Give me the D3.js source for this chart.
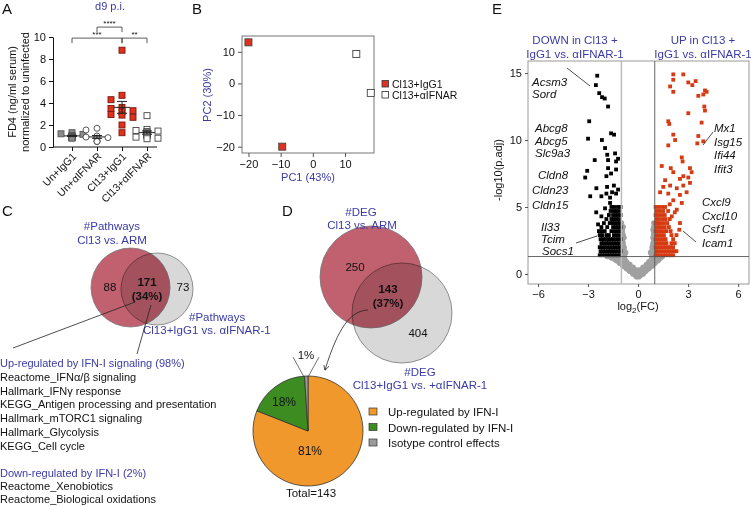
<!DOCTYPE html>
<html><head><meta charset="utf-8">
<script src="https://cdn.jsdelivr.net/npm/d3@7"></script>
<style>
body{margin:0;background:#fff}
text{font-family:"Liberation Sans",Arial,sans-serif}
</style></head><body>
<svg id="c" width="751" height="506"></svg>
<script>
// ---------------- DATA ----------------
// Panel A
const aCats = ["Un+IgG1","Un+αIFNAR","Cl13+IgG1","Cl13+αIFNAR"];
const aUnIgG1 = [1.3,1.2,1.15,1.05,1.0,0.95,0.9,0.9,0.85,0.8];
const aUnAIFNAR = [1.7,1.55,1.0,0.9,0.85,0.8,0.8,0.55,0.5,0.5];
const aCl13IgG1 = [8.8,4.7,4.3,3.6,3.5,3.3,3.2,2.95,2.9,2.7,2.0,1.3];
const aCl13AIFNAR = [2.85,1.6,1.5,1.45,1.4,1.3,1.2,1.15,1.1,1.0,0.9,0.8,0.75];
const aTicks = [0,2,4,6,8,10];
const aSig = [["Un+αIFNAR","Cl13+IgG1","****",10.9],["Un+IgG1","Cl13+IgG1","***",9.9],["Cl13+IgG1","Cl13+αIFNAR","**",9.9]];
// Panel B
const bGroups = ["Cl13+IgG1","Cl13+αIFNAR"];
const bPC1 = [-20,-9.5,13.5,18];
const bPC2 = [13,-20,9.3,-3];
const bGroupOf = [0,0,1,1];
const bTicks = [-20,-10,0,10];
// Panel C
const cCounts = [88,171,73];
const cPct = "34%";
const cUpTitle = "Up-regulated by IFN-I signaling (98%)";
const cUpList = ["Reactome_IFNα/β signaling","Hallmark_IFNγ response","KEGG_Antigen processing and presentation","Hallmark_mTORC1 signaling","Hallmark_Glycolysis","KEGG_Cell cycle"];
const cDownTitle = "Down-regulated by IFN-I (2%)";
const cDownList = ["Reactome_Xenobiotics","Reactome_Biological oxidations"];
// Panel D
const dCounts = [250,143,404];
const dPct = "37%";
const pieLabels = ["Up-regulated by IFN-I","Down-regulated by IFN-I","Isotype control effects"];
const pieValues = [81,18,1];
const pieColors = ["#f0982c","#3c8c22","#9a9a9a"];
// Panel E
const eXTicks = [-6,-3,0,3,6];
const eYTicks = [0,5,10,15];
const eDown = [[-2.45,14.8],[-2.53,14.1],[-2.33,13.5],[-2.16,13.2],[-2.0,13.1],[-1.8,12.5],
 [-2.93,11.4],[-3.0,10.1],[-2.17,10.0],[-1.62,10.5],[-1.44,10.4],
 [-1.98,9.4],[-1.85,8.9],[-1.38,9.0],[-2.6,8.5],[-1.8,8.5],[-1.32,8.4],[-1.2,8.6],
 [-3.05,7.7],[-3.17,7.2],[-1.8,7.9],[-1.62,7.5],[-1.32,7.8],[-1.9,7.3],
 [-2.5,6.4],[-1.86,6.5],[-2.87,5.8],[-2.2,5.8],[-1.9,6.0],[-1.68,5.7],[-1.56,6.1],[-1.32,6.0],[-1.45,6.6],[-1.2,6.3],
 [-2.51,4.6],[-1.98,4.9],[-1.68,5.3],[-2.4,3.7],[-2.2,4.3]];
const eDownDense = [
 [1.4,[-2.3,-2.15,-2.0,-1.85,-1.7,-1.55,-1.4,-1.25,-1.1]],
 [1.7,[-2.25,-2.1,-1.95,-1.8,-1.65,-1.5,-1.35,-1.2,-1.05]],
 [2.0,[-2.3,-2.15,-2.0,-1.85,-1.7,-1.55,-1.4,-1.25,-1.1]],
 [2.3,[-2.2,-2.05,-1.9,-1.75,-1.6,-1.45,-1.3,-1.15]],
 [2.6,[-2.25,-2.1,-1.95,-1.8,-1.65,-1.5,-1.35,-1.2,-1.05]],
 [2.9,[-2.3,-2.15,-1.9,-1.75,-1.45,-1.3,-1.15]],
 [3.2,[-2.35,-2.2,-2.0,-1.6,-1.4,-1.25,-1.1]],
 [3.5,[-2.2,-1.85,-1.5,-1.35,-1.2,-1.05]],
 [3.8,[-2.05,-1.7,-1.55,-1.4,-1.25,-1.1]],
 [4.1,[-1.9,-1.6,-1.45,-1.3,-1.15]],
 [4.4,[-1.75,-1.5,-1.35,-1.2,-1.05]],
 [4.7,[-1.65,-1.45,-1.3,-1.15]],
 [5.0,[-1.6,-1.4,-1.2,-1.05]]];
const eUp = [[2.11,14.9],[2.71,14.9],[2.11,14.5],[1.92,14.0],[2.11,13.6],[3.01,14.3],[3.25,14.1],[3.45,14.4],[4.01,13.7],[4.11,13.6],[3.91,13.4],[3.61,13.3],[3.01,12.0],[3.97,12.5],[4.01,12.2],[1.81,11.4],[1.87,11.2],[3.81,11.3],[2.11,10.4],[3.61,10.3],[2.22,10.0],[3.55,9.75],[1.81,9.6],[3.91,9.9],[1.42,8.06],[2.62,8.7],[2.67,8.4],[1.96,7.9],[2.11,7.6],[3.11,7.9],[3.21,7.6],[3.01,7.2],[2.71,7.3],[1.62,7.0],[2.51,7.1],[1.92,6.6],[2.32,6.4],[2.71,6.6],[3.11,6.8],[1.51,6.5],[1.32,6.1],[1.81,6.0],[2.51,5.9],[2.91,6.1],[2.11,5.5],[2.62,5.3],[1.62,5.0],[2.32,4.8],[2.02,4.3],[2.51,3.8],[2.47,3.3],[2.2,4.6],[1.9,5.2]];
const eUpDense = [
 [1.4,[1.05,1.2,1.35,1.5,1.65,1.8,1.95,2.1]],
 [1.7,[1.1,1.25,1.4,1.55,1.7,1.85,2.0,2.15,2.3]],
 [2.0,[1.05,1.2,1.35,1.5,1.65,1.8,1.95,2.1]],
 [2.3,[1.1,1.25,1.4,1.55,1.7,2.0,2.2]],
 [2.6,[1.05,1.2,1.35,1.5,1.65,2.1]],
 [2.9,[1.1,1.25,1.4,1.55,2.0,2.3]],
 [3.2,[1.05,1.2,1.35,1.5,1.7,1.95]],
 [3.5,[1.1,1.25,1.4,1.6,1.85]],
 [3.8,[1.05,1.2,1.35,1.55,1.75]],
 [4.1,[1.1,1.25,1.45,1.65,1.9]],
 [4.4,[1.05,1.2,1.4,1.6]],
 [4.7,[1.1,1.3,1.5,1.8]],
 [5.0,[1.05,1.25,1.45]]];
const eNS = [
 [-0.2,[-0.1,0.05]],
 [-0.1,[-0.15,0,0.15]],
 [0.0,[-0.3,-0.15,0,0.15,0.3]],
 [0.1,[-0.35,-0.2,-0.05,0.1,0.25,0.35]],
 [0.2,[-0.5,-0.35,-0.2,0.2,0.35,0.45]],
 [0.3,[-0.55,-0.4,-0.25,-0.1,0.05,0.2,0.35,0.5]],
 [0.4,[-0.7,-0.55,-0.4,0.4,0.55,0.65]],
 [0.5,[-0.75,-0.6,-0.45,-0.3,0.3,0.45,0.6,0.7]],
 [0.6,[-0.9,-0.75,-0.6,0.55,0.7,0.85]],
 [0.7,[-0.95,-0.8,-0.65,-0.5,0.5,0.65,0.8,0.9]],
 [0.8,[-1.1,-0.95,-0.8,-0.65,0.7,0.85,1.0]],
 [0.9,[-1.15,-1.0,-0.85,-0.7,0.65,0.8,0.95,1.05]],
 [1.0,[-1.3,-1.15,-1.0,-0.85,0.8,0.95,1.1,1.2]],
 [1.1,[-1.4,-1.25,-1.1,-0.95,-0.8,0.8,0.95,1.1,1.25]],
 [1.2,[-1.6,-1.45,-1.3,-1.15,-1.0,-0.9,0.9,1.05,1.2,1.35]],
 [1.3,[-1.85,-1.7,-1.55,-1.4,-1.2,-1.0,-0.85,0.85,1.0,1.2,1.35,1.45]],
 [1.5,[-0.95,-0.8,0.8,0.95]],
 [1.6,[-0.9,-0.75,0.75,0.9]],
 [1.8,[-0.95,-0.85,0.85,0.95]],
 [2.0,[-0.85,0.85]],[2.1,[-0.95,0.9]],[2.3,[-0.9,0.9]],[2.5,[-0.95,0.95]],[2.7,[-0.85,0.9]],
 [2.9,[-0.9,0.95]],[3.1,[-0.95,0.95]],[3.3,[-0.95,0.9]],[3.5,[-0.9,0.95]],[3.8,[-1.0,0.95]]];
const eDownGenes = [["Acsm3","Sord"],["Abcg8","Abcg5","Slc9a3"],["Cldn8","Cldn23","Cldn15"],["Il33","Tcim","Socs1"]];
const eUpGenes = [["Mx1","Isg15","Ifi44","Ifit3"],["Cxcl9","Cxcl10","Csf1","Icam1"]];

// ---------------- DRAW ----------------
const BLUE = "#3b3ba6";
const svg = d3.select("#c");
function txt(g,x,y,s,o={}){
  const t=g.append("text").attr("x",x).attr("y",y).text(s)
   .attr("font-size",o.size||11).attr("fill",o.fill||"#111")
   .attr("text-anchor",o.anchor||"start");
  if(o.weight) t.attr("font-weight",o.weight);
  if(o.italic) t.attr("font-style","italic");
  return t;
}
function panelLetter(x,y,s){txt(svg,x,y,s,{size:15});}
panelLetter(2,14,"A"); panelLetter(192,14,"B"); panelLetter(2,216,"C"); panelLetter(282,216,"D"); panelLetter(492,14,"E");

// ===== Panel A =====
(function(){
  const g = svg.append("g");
  const x = d3.scalePoint().domain(aCats).range([72,147]);
  const y = d3.scaleLinear().domain([0,10]).range([147,37]);
  const ax = g.append("g").attr("transform","translate(53,0)")
    .call(d3.axisLeft(y).tickValues(aTicks).tickSize(4).tickSizeOuter(0));
  ax.selectAll("text").attr("font-size",11).attr("fill","#111").attr("font-family","Liberation Sans, Arial");
  ax.selectAll("line,path").attr("stroke","#111");
  const bx = g.append("g").attr("transform","translate(0,147)")
    .call(d3.axisBottom(x).tickSize(4).tickSizeOuter(0));
  bx.select(".domain").remove();
  bx.selectAll("line").attr("stroke","#111");
  bx.selectAll("text").remove();
  g.append("line").attr("x1",53).attr("x2",157).attr("y1",147).attr("y2",147).attr("stroke","#111");
  aCats.forEach(c=>{
    txt(g,0,0,c,{size:10.5,anchor:"end"}).attr("transform",`translate(${x(c)+5},${157}) rotate(-45)`);
  });
  g.append("text").attr("transform","translate(16,92) rotate(-90)").attr("text-anchor","middle")
    .attr("font-size",11).attr("fill","#111").text("FD4 (ng/ml serum)");
  g.append("text").attr("transform","translate(29,92) rotate(-90)").attr("text-anchor","middle")
    .attr("font-size",11).attr("fill","#111").text("normalized to uninfected");
  txt(g,110,10,"d9 p.i.",{size:11,fill:BLUE,anchor:"middle"});
  const groups=[aUnIgG1,aUnAIFNAR,aCl13IgG1,aCl13AIFNAR];
  const styles=[{shape:"sq",fill:"#8a8a8a",stroke:"#555"},{shape:"ci",fill:"#fff",stroke:"#444"},
                {shape:"sq",fill:"#e0301e",stroke:"#7a1a0a"},{shape:"sq",fill:"#fff",stroke:"#444"}];
  groups.forEach((vals,gi)=>{
    const cx=x(aCats[gi]);
    const mean=d3.mean(vals), sem=d3.deviation(vals)/Math.sqrt(vals.length);
    const placed=[];
    vals.slice().sort((a,b)=>b-a).forEach(v=>{
      const py=y(v);
      const offs=[0,-5.5,5.5,-11,11,-16.5,16.5];
      let px=cx;
      for(const o of offs){
        if(!placed.some(p=>Math.abs(p[0]-(cx+o))<6 && Math.abs(p[1]-py)<6)){px=cx+o;break;}
      }
      placed.push([px,py]);
    });
    const st=styles[gi];
    placed.forEach(p=>{
      if(st.shape==="sq") g.append("rect").attr("x",p[0]-3).attr("y",p[1]-3).attr("width",6).attr("height",6)
         .attr("fill",st.fill).attr("stroke",st.stroke).attr("stroke-width",0.9);
      else g.append("circle").attr("cx",p[0]).attr("cy",p[1]).attr("r",3).attr("fill",st.fill).attr("stroke",st.stroke).attr("stroke-width",0.9);
    });
    g.append("line").attr("x1",cx-8).attr("x2",cx+8).attr("y1",y(mean)).attr("y2",y(mean)).attr("stroke","#222");
    g.append("line").attr("x1",cx).attr("x2",cx).attr("y1",y(mean-sem)).attr("y2",y(mean+sem)).attr("stroke","#222");
    [mean-sem,mean+sem].forEach(v=>g.append("line").attr("x1",cx-5).attr("x2",cx+5).attr("y1",y(v)).attr("y2",y(v)).attr("stroke","#222"));
  });
  aSig.forEach(s=>{
    const x1=x(s[0]),x2=x(s[1]),yy=y(s[3]);
    g.append("path").attr("d",`M${x1},${yy+5}V${yy}H${x2}V${yy+5}`).attr("fill","none").attr("stroke","#333").attr("stroke-width",0.8);
    txt(g,(x1+x2)/2,yy-1.5,s[2],{size:8,anchor:"middle"});
  });
})();

// ===== Panel B =====
(function(){
  const g=svg.append("g");
  const x=d3.scaleLinear().domain([-22,19]).range([242,374]);
  const y=d3.scaleLinear().domain([-22,15]).range([153,36]);
  g.append("rect").attr("x",242).attr("y",36).attr("width",132).attr("height",117).attr("fill","none").attr("stroke","#777");
  const ax=g.append("g").attr("transform","translate(0,153)").call(d3.axisBottom(x).tickValues(bTicks).tickSize(4).tickSizeOuter(0));
  const ay=g.append("g").attr("transform","translate(242,0)").call(d3.axisLeft(y).tickValues(bTicks).tickSize(4).tickSizeOuter(0));
  [ax,ay].forEach(a=>{a.select(".domain").remove();a.selectAll("line").attr("stroke","#555");
    a.selectAll("text").attr("font-size",11).attr("fill","#111").attr("font-family","Liberation Sans, Arial");});
  const fills=["#e0301e","#fff"];
  bPC1.forEach((v,i)=>{
    g.append("rect").attr("x",x(v)-3.5).attr("y",y(bPC2[i])-3.5).attr("width",7).attr("height",7)
      .attr("fill",fills[bGroupOf[i]]).attr("stroke","#444").attr("stroke-width",0.9);
  });
  txt(g,308,181,"PC1 (43%)",{size:11,fill:BLUE,anchor:"middle"});
  g.append("text").attr("transform","translate(211,95) rotate(-90)").attr("text-anchor","middle")
    .attr("font-size",11).attr("fill",BLUE).text("PC2 (30%)");
  bGroups.forEach((n,i)=>{
    g.append("rect").attr("x",382).attr("y",80.5+i*11).attr("width",6.5).attr("height",6.5).attr("fill",fills[i]).attr("stroke","#444").attr("stroke-width",0.9);
    txt(g,392,87.5+i*11,n,{size:10.5});
  });
})();

// ===== Panel C =====
(function(){
  const g=svg.append("g");
  g.append("circle").attr("cx",130.5).attr("cy",287.5).attr("r",39.5).attr("fill","#c1606e").attr("stroke","#777").attr("stroke-width",0.8);
  g.append("circle").attr("cx",157).attr("cy",289).attr("r",36).attr("fill","#d8d8d8").attr("stroke","#777").attr("stroke-width",0.8).style("mix-blend-mode","multiply");
  txt(g,112,230,"#Pathways",{size:11.5,fill:BLUE,anchor:"middle"});
  txt(g,112,244,"Cl13 vs. ARM",{size:11.5,fill:BLUE,anchor:"middle"});
  txt(g,189,321,"#Pathways",{size:11.5,fill:BLUE});
  txt(g,143,334,"Cl13+IgG1 vs. αIFNAR-1",{size:11.5,fill:BLUE});
  txt(g,110,291,String(cCounts[0]),{size:11.5,anchor:"middle"});
  txt(g,147,286,String(cCounts[1]),{size:11.5,anchor:"middle",weight:"bold"});
  txt(g,147,300,"("+cPct+")",{size:11.5,anchor:"middle",weight:"bold"});
  txt(g,183,291,String(cCounts[2]),{size:11.5,anchor:"middle"});
  g.append("line").attr("x1",135).attr("y1",302).attr("x2",13).attr("y2",348).attr("stroke","#222").attr("stroke-width",0.8);
  g.append("line").attr("x1",151).attr("y1",305).attr("x2",137).attr("y2",354).attr("stroke","#222").attr("stroke-width",0.8);
  const ys=[363.3,377.3,391,404.3,418.3,431.7,445.7];
  txt(g,0,ys[0]+4,cUpTitle,{size:11,fill:BLUE});
  cUpList.forEach((s,i)=>txt(g,0,ys[i+1]+4,s,{size:11}));
  txt(g,0,472.7+4,cDownTitle,{size:11,fill:BLUE});
  cDownList.forEach((s,i)=>txt(g,0,486+i*13.3+4,s,{size:11}));
})();

// ===== Panel D =====
(function(){
  const g=svg.append("g");
  g.append("circle").attr("cx",371).attr("cy",277).attr("r",51).attr("fill","#c1606e").attr("stroke","#777").attr("stroke-width",0.8);
  g.append("circle").attr("cx",402).attr("cy",313).attr("r",50).attr("fill","#d8d8d8").attr("stroke","#777").attr("stroke-width",0.8).style("mix-blend-mode","multiply");
  txt(g,361,216,"#DEG",{size:11.5,fill:BLUE,anchor:"middle"});
  txt(g,362,229,"Cl13 vs. ARM",{size:11.5,fill:BLUE,anchor:"middle"});
  txt(g,355,271,String(dCounts[0]),{size:11.5,anchor:"middle"});
  txt(g,388,293,String(dCounts[1]),{size:11.5,anchor:"middle",weight:"bold"});
  txt(g,388,307,"("+dPct+")",{size:11.5,anchor:"middle",weight:"bold"});
  txt(g,418,337,String(dCounts[2]),{size:11.5,anchor:"middle"});
  txt(g,420,376,"#DEG",{size:11.5,fill:BLUE,anchor:"middle"});
  txt(g,420,389,"Cl13+IgG1 vs. +αIFNAR-1",{size:11.5,fill:BLUE,anchor:"middle"});
  svg.append("defs").append("marker").attr("id","arr").attr("viewBox","0 0 10 10").attr("refX",9).attr("refY",5)
    .attr("markerWidth",7).attr("markerHeight",7).attr("orient","auto")
    .append("path").attr("d","M0,0 L10,5 L0,10").attr("fill","none").attr("stroke","#222").attr("stroke-width",1.3);
  g.append("path").attr("d","M368,310 C350,311 338,328 325,370").attr("fill","none").attr("stroke","#222").attr("stroke-width",0.8).attr("marker-end","url(#arr)");
  const pie=d3.pie().sort(null).value(d=>d)(pieValues);
  const arc=d3.arc().innerRadius(0).outerRadius(55);
  const pg=g.append("g").attr("transform","translate(308,431)");
  pg.selectAll("path").data(pie).join("path").attr("d",arc).attr("fill",(d,i)=>pieColors[i]).attr("stroke","#333").attr("stroke-width",0.8);
  txt(g,310,455,pieValues[0]+"%",{size:12,anchor:"middle"});
  txt(g,284,406,pieValues[1]+"%",{size:12,anchor:"middle"});
  txt(g,306,359,pieValues[2]+"%",{size:11.5,anchor:"middle"});
  g.append("path").attr("d","M293,357 L304,377 M319,357 L308,377").attr("fill","none").attr("stroke","#333").attr("stroke-width",0.7);
  txt(g,311,497,"Total=143",{size:11.5,anchor:"middle"});
  pieLabels.forEach((s,i)=>{
    g.append("rect").attr("x",369).attr("y",408+i*15.5).attr("width",8).attr("height",7).attr("fill",pieColors[i]).attr("stroke","#333").attr("stroke-width",0.7);
    txt(g,388,416+i*15.5,s,{size:11.5});
  });
})();

// ===== Panel E =====
(function(){
  const g=svg.append("g");
  const x=d3.scaleLinear().domain([-6.6,6.65]).range([528,749]);
  const y=d3.scaleLinear().domain([-0.75,15.9]).range([284,61]);
  g.append("rect").attr("x",528).attr("y",61).attr("width",221).attr("height",223).attr("fill","#fff").attr("stroke","#999");
  const flat=rows=>rows.flatMap(r=>r[1].map(v=>[v,r[0]]));
  g.selectAll(".ns").data(flat(eNS)).join("circle").attr("cx",d=>x(d[0])).attr("cy",d=>y(d[1])).attr("r",2.8).attr("fill","#a0a0a0");
  const sq=(data,col)=>g.selectAll(null).data(data).join("rect")
     .attr("x",d=>x(d[0])-1.9).attr("y",d=>y(d[1])-1.9).attr("width",3.8).attr("height",3.8).attr("fill",col);
  sq(flat(eDownDense),"#000"); sq(eDown,"#000");
  sq(flat(eUpDense),"#d63a12"); sq(eUp,"#d63a12");
  g.append("line").attr("x1",x(-1)).attr("x2",x(-1)).attr("y1",61).attr("y2",284).attr("stroke","#bbb").attr("stroke-width",1.5);
  g.append("line").attr("x1",x(1)).attr("x2",x(1)).attr("y1",61).attr("y2",284).attr("stroke","#555").attr("stroke-width",0.9);
  g.append("line").attr("x1",528).attr("x2",749).attr("y1",y(1.3)).attr("y2",y(1.3)).attr("stroke","#555").attr("stroke-width",0.9);
  const ax=g.append("g").attr("transform","translate(0,284)").call(d3.axisBottom(x).tickValues(eXTicks).tickSize(3).tickSizeOuter(0));
  const ay=g.append("g").attr("transform","translate(528,0)").call(d3.axisLeft(y).tickValues(eYTicks).tickSize(3).tickSizeOuter(0));
  [ax,ay].forEach(a=>{a.select(".domain").remove();a.selectAll("line").attr("stroke","#555");
    a.selectAll("text").attr("font-size",11).attr("fill","#111").attr("font-family","Liberation Sans, Arial");});
  const xl=g.append("text").attr("x",638).attr("y",310).attr("text-anchor","middle").attr("font-size",11).attr("fill","#111");
  xl.append("tspan").text("log");
  xl.append("tspan").attr("font-size",8).attr("dy",3).text("2");
  xl.append("tspan").attr("dy",-3).text("(FC)");
  g.append("text").attr("transform","translate(502,170) rotate(-90)").attr("text-anchor","middle").attr("font-size",11).attr("fill","#111").text("-log10(p.adj)");
  txt(g,575,44,"DOWN in Cl13 +",{size:11.5,fill:BLUE,anchor:"middle"});
  txt(g,575,58,"IgG1 vs. αIFNAR-1",{size:11.5,fill:BLUE,anchor:"middle"});
  txt(g,703,44,"UP in Cl13 +",{size:11.5,fill:BLUE,anchor:"middle"});
  txt(g,703,58,"IgG1 vs. αIFNAR-1",{size:11.5,fill:BLUE,anchor:"middle"});
  const downY=[[86,12],[132,12.5],[179,15],[231,12]];
  const downX=[[532,532],[535,535,535],[538,532,532],[541,541,542]];
  eDownGenes.forEach((grp,gi)=>grp.forEach((s,i)=>txt(g,downX[gi][i],downY[gi][0]+i*downY[gi][1],s,{size:11.5,italic:true})));
  const upPos=[[714,132,13.5],[702,206,13.7]];
  eUpGenes.forEach((grp,gi)=>grp.forEach((s,i)=>txt(g,upPos[gi][0],upPos[gi][1]+i*upPos[gi][2],s,{size:11.5,italic:true})));
  g.append("path").attr("d","M567,68 L590,86 M713,132 L703,145 M576,243 L597,236 M683,231 L696,242")
    .attr("stroke","#222").attr("stroke-width",0.8).attr("fill","none");
})();
</script></body></html>
